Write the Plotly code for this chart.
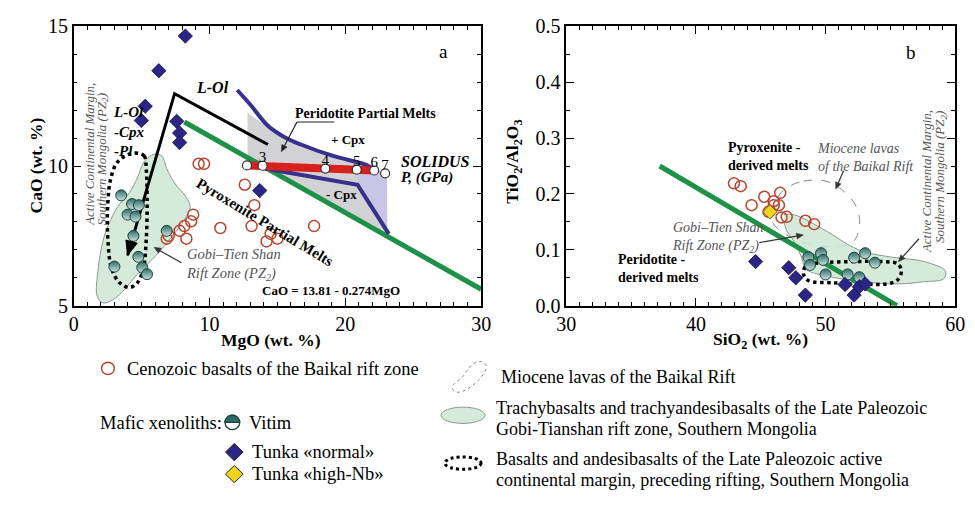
import math
import plotly.graph_objects as go

SERIF = "Liberation Serif, Times New Roman, serif"

# ---------------- panel a : CaO vs MgO ----------------
baikal_a_mgo = [9.2, 9.6, 12.6, 13.3, 8.8, 8.65, 8.15, 7.8, 8.3, 7.0, 6.85, 10.8, 13.1, 14.5, 15.0, 14.2, 17.7]
baikal_a_cao = [10.08, 10.08, 9.33, 8.6, 8.26, 8.02, 7.85, 7.68, 7.4, 7.5, 7.4, 7.78, 7.85, 7.57, 7.4, 7.3, 7.85]

tunka_a_mgo = [8.22, 6.27, 5.27, 4.98, 7.59, 7.8, 7.8, 13.7]
tunka_a_cao = [14.65, 13.41, 12.14, 11.63, 11.6, 11.18, 10.84, 9.12]

vitim_a_mgo = [3.5, 4.3, 4.8, 3.97, 4.55, 4.4, 6.85, 4.76, 3.0, 5.05, 5.4]
vitim_a_cao = [8.95, 8.64, 8.6, 8.26, 8.19, 7.5, 7.68, 6.75, 6.4, 6.37, 6.13]

# peridotite solidus; pressures (GPa) labelled from the second point on
solidus_mgo = [12.76, 13.91, 18.53, 20.84, 22.13, 22.93]
solidus_cao = [10.02, 10.01, 9.91, 9.87, 9.84, 9.74]
solidus_p = ["3", "4", "5", "6", "7"]

# olivine-control boundary and -Cpx boundary of peridotite melts
lol_mgo = [12.04, 12.98, 14.28, 15.5, 16.73, 19.1, 21.49, 22.13]
lol_cao = [12.72, 12.21, 11.45, 11.04, 10.77, 10.36, 10.05, 9.87]
cpx_mgo = [14.06, 16.94, 20.9, 21.85, 23.2]
cpx_cao = [9.91, 9.67, 9.33, 8.6, 7.57]

# peridotite partial melt field
perid_mgo = [12.8, 14.28, 15.5, 16.73, 19.1, 21.49, 22.13, 23.07, 23.07, 13.9, 12.8]
perid_cao = [11.9, 11.4, 11.0, 10.74, 10.33, 10.03, 9.86, 9.76, 7.49, 10.0, 10.0]
lav_mgo = [20.9, 21.85, 23.1, 23.07, 22.13, 21.0]
lav_cao = [9.33, 8.6, 7.52, 9.76, 9.84, 9.86]

# fractionation trend L-Ol -> L-Ol-Cpx-Pl
trend_mgo = [14.3, 7.43, 3.97]
trend_cao = [10.77, 12.59, 6.8]

# pyroxenite / peridotite dividing line: CaO = 13.81 - 0.274MgO
div_mgo = [8.15, 30.0]
div_cao = [13.81 - 0.274 * m for m in div_mgo]

# Gobi-Tien Shan rift zone field and active margin field
gobi_a_mgo = [5.91, 6.49, 6.85, 7.43, 8.29, 8.58, 8.29, 7.57, 6.71, 5.77, 4.69, 3.82, 2.88, 2.16, 1.73, 1.80, 2.16, 2.52, 3.24, 4.11, 4.69, 5.19, 5.91]
gobi_a_cao = [10.42, 10.36, 9.91, 9.39, 8.88, 8.54, 8.19, 7.68, 7.16, 6.65, 6.13, 5.62, 5.21, 5.10, 5.34, 6.30, 7.33, 7.85, 8.54, 9.05, 9.57, 10.15, 10.42]
acm_a_mgo = [4.33, 5.19, 5.34, 5.41, 5.34, 5.12, 4.69, 4.11, 3.39, 2.81, 2.52, 2.52, 2.74, 3.24, 4.33]
acm_a_cao = [10.46, 10.36, 9.91, 8.71, 7.33, 6.30, 5.82, 5.65, 5.82, 6.30, 7.33, 8.71, 9.57, 10.15, 10.46]

# ---------------- panel b : TiO2/Al2O3 vs SiO2 ----------------
baikal_b_si = [42.93, 43.45, 44.29, 45.27, 46.0, 46.5, 46.0, 46.4, 46.6, 47.0, 48.44, 49.12, 45.6]
baikal_b_ti = [0.219, 0.214, 0.180, 0.195, 0.187, 0.202, 0.180, 0.180, 0.158, 0.159, 0.152, 0.146, 0.168]

tunka_b_si = [44.6, 47.16, 47.7, 48.44, 51.5, 52.2, 52.6, 53.05]
tunka_b_ti = [0.079, 0.068, 0.050, 0.019, 0.038, 0.019, 0.034, 0.039]

highnb_b_si = [45.7]
highnb_b_ti = [0.168]

vitim_b_si = [48.67, 49.65, 49.8, 52.2, 53.05, 53.8, 50.0, 51.7, 52.6, 48.8]
vitim_b_ti = [0.087, 0.094, 0.082, 0.086, 0.094, 0.077, 0.056, 0.056, 0.051, 0.073]

div_b_si = [37.2, 55.5]
div_b_ti = [0.25, 0.0]

gobi_b_si = [46.78, 47.54, 50.03, 51.84, 53.05, 55.09, 57.59, 59.25, 59.1, 57.59, 55.62, 52.83, 50.56, 48.52, 48.14, 47.54, 47.0, 46.78]
gobi_b_ti = [0.163, 0.163, 0.134, 0.108, 0.096, 0.087, 0.079, 0.062, 0.048, 0.043, 0.039, 0.043, 0.051, 0.065, 0.087, 0.116, 0.134, 0.151]
acm_b_si = [48.52, 49.8, 52.07, 54.34, 55.55, 55.85, 55.55, 54.72, 52.83, 50.56, 48.67, 48.29, 48.52]
acm_b_ti = [0.072, 0.077, 0.079, 0.079, 0.075, 0.062, 0.046, 0.039, 0.039, 0.041, 0.045, 0.057, 0.072]
mio_b_si = [47.0, 48.29, 50.03, 51.54, 52.45, 52.6, 52.07, 50.79, 49.05, 47.54, 46.25, 45.8, 46.4, 47.0]
mio_b_ti = [0.211, 0.223, 0.223, 0.202, 0.173, 0.139, 0.113, 0.106, 0.108, 0.120, 0.139, 0.156, 0.197, 0.211]

# ---------------- styles ----------------
RED = "#b8452e"
NAVY = "#2b2585"
TEAL = "#2c6b66"
GREEN = "#1c9147"
BLUE_CURVE = "#37308c"
FIELD_GREEN = "rgba(206,230,210,0.85)"

baikal_marker = dict(symbol="circle-open", size=11, color=RED, line=dict(width=1.5))
tunka_marker = dict(symbol="diamond", size=11, color=NAVY, line=dict(color="#15124a", width=0.8))
highnb_marker = dict(symbol="diamond", size=11, color="#f2d51b", line=dict(color="#5a4a00", width=0.8))
vitim_marker = dict(symbol="circle", size=11, color=TEAL, line=dict(color="#1b4340", width=1),
                    gradient=dict(type="vertical", color="#cfe3df"))

fig = go.Figure()


def field(x, y, xa, ya, fill, line, dash="solid", width=1, spline=True):
    fig.add_trace(go.Scatter(x=x, y=y, xaxis=xa, yaxis=ya, mode="lines", fill="toself",
                             fillcolor=fill, line=dict(color=line, width=width, dash=dash,
                                                       shape="spline" if spline else "linear"),
                             hoverinfo="skip", showlegend=False))


# panel a fields
field(perid_mgo, perid_cao, "x", "y", "rgba(205,205,208,0.9)", "rgba(0,0,0,0)", spline=False)
field(lav_mgo, lav_cao, "x", "y", "rgba(200,195,230,0.9)", "rgba(0,0,0,0)", spline=False)
field(gobi_a_mgo, gobi_a_cao, "x", "y", FIELD_GREEN, "#8a9a8e", width=1)
field(acm_a_mgo, acm_a_cao, "x", "y", "rgba(0,0,0,0)", "black", dash="dot", width=3.5)

# panel b fields
field(mio_b_si, mio_b_ti, "x2", "y2", "rgba(0,0,0,0)", "#888888", dash="dash", width=1)
field(gobi_b_si, gobi_b_ti, "x2", "y2", FIELD_GREEN, "#8a9a8e", width=1)
field(acm_b_si, acm_b_ti, "x2", "y2", "rgba(0,0,0,0)", "black", dash="dot", width=3.5)

# panel a lines
fig.add_trace(go.Scatter(x=div_mgo, y=div_cao, mode="lines", line=dict(color=GREEN, width=5),
                         showlegend=False, hoverinfo="skip"))
fig.add_trace(go.Scatter(x=lol_mgo, y=lol_cao, mode="lines", line=dict(color=BLUE_CURVE, width=4, shape="spline"),
                         showlegend=False, hoverinfo="skip"))
fig.add_trace(go.Scatter(x=cpx_mgo, y=cpx_cao, mode="lines", line=dict(color=BLUE_CURVE, width=4),
                         showlegend=False, hoverinfo="skip"))
fig.add_trace(go.Scatter(x=trend_mgo, y=trend_cao, mode="lines", line=dict(color="black", width=3),
                         showlegend=False, hoverinfo="skip"))
fig.add_trace(go.Scatter(x=solidus_mgo[:5], y=solidus_cao[:5], mode="lines", line=dict(color="#d8201c", width=8),
                         showlegend=False, hoverinfo="skip"))
fig.add_trace(go.Scatter(x=solidus_mgo, y=solidus_cao, mode="markers",
                         marker=dict(symbol="circle", size=9, color="white", line=dict(color="#333", width=1.2)),
                         showlegend=False, hoverinfo="skip"))
fig.add_trace(go.Scatter(x=solidus_mgo[1:], y=solidus_cao[1:], mode="text", text=solidus_p,
                         textposition="top center",
                         textfont=dict(family=SERIF, size=15, color="black"),
                         showlegend=False, hoverinfo="skip"))

# panel a points
fig.add_trace(go.Scatter(x=baikal_a_mgo, y=baikal_a_cao, mode="markers", marker=baikal_marker, showlegend=False))
fig.add_trace(go.Scatter(x=vitim_a_mgo, y=vitim_a_cao, mode="markers", marker=vitim_marker, showlegend=False))
fig.add_trace(go.Scatter(x=tunka_a_mgo, y=tunka_a_cao, mode="markers", marker=tunka_marker, showlegend=False))

# panel b line and points
fig.add_trace(go.Scatter(x=div_b_si, y=div_b_ti, xaxis="x2", yaxis="y2", mode="lines",
                         line=dict(color=GREEN, width=5), showlegend=False, hoverinfo="skip"))
fig.add_trace(go.Scatter(x=baikal_b_si, y=baikal_b_ti, xaxis="x2", yaxis="y2", mode="markers",
                         marker=baikal_marker, showlegend=False))
fig.add_trace(go.Scatter(x=highnb_b_si, y=highnb_b_ti, xaxis="x2", yaxis="y2", mode="markers",
                         marker=highnb_marker, showlegend=False))
fig.add_trace(go.Scatter(x=vitim_b_si, y=vitim_b_ti, xaxis="x2", yaxis="y2", mode="markers",
                         marker=vitim_marker, showlegend=False))
fig.add_trace(go.Scatter(x=tunka_b_si, y=tunka_b_ti, xaxis="x2", yaxis="y2", mode="markers",
                         marker=tunka_marker, showlegend=False))

# ---------------- axes ----------------
W, H = 975, 510
A_LEFT, A_RIGHT, P_TOP, P_BOTTOM = 65, 481, 16, 308
axis_common = dict(showline=True, linecolor="black", linewidth=1.5, mirror="ticks", ticks="inside",
                   ticklen=8, tickwidth=1.3, tickcolor="black", showgrid=False, zeroline=False,
                   tickfont=dict(family=SERIF, size=20, color="black"), fixedrange=True)

fig.update_layout(
    width=W, height=H, margin=dict(l=0, r=0, t=0, b=0),
    paper_bgcolor="white", plot_bgcolor="rgba(0,0,0,0)", showlegend=False,
    xaxis=dict(domain=[A_LEFT / W, A_RIGHT / W], range=[0, 30], dtick=10, anchor="y",
               minor=dict(dtick=1, ticklen=4, ticks="inside", tickcolor="black"), **axis_common),
    yaxis=dict(domain=[1 - P_BOTTOM / H, 1 - P_TOP / H], range=[5, 15], dtick=5, anchor="x",
               minor=dict(dtick=1, ticklen=4, ticks="inside", tickcolor="black"), **axis_common),
    xaxis2=dict(domain=[568 / W, 965 / W], range=[30, 60], dtick=10, anchor="y2",
                minor=dict(dtick=1, ticklen=4, ticks="inside", tickcolor="black"), **axis_common),
    yaxis2=dict(domain=[1 - P_BOTTOM / H, 1 - P_TOP / H], range=[0, 0.5], dtick=0.1, tickformat=".1f",
                anchor="x2", minor=dict(dtick=0.05, ticklen=4, ticks="inside", tickcolor="black"),
                **axis_common),
    # full-figure pixel frame for labels and key
    xaxis3=dict(domain=[0, 1], range=[0, W], visible=False, anchor="y3", fixedrange=True),
    yaxis3=dict(domain=[0, 1], range=[H, 0], visible=False, anchor="x3", fixedrange=True),
)

ann = []
shapes = []


def label(x, y, text, size=15, color="black", anchor="center", angle=0, align="left"):
    ann.append(dict(x=x, y=y, xref="x3", yref="y3", text=text, showarrow=False,
                    font=dict(family=SERIF, size=size, color=color), borderpad=0, align=align,
                    xanchor=anchor, yanchor="middle", textangle=angle))


def pointer(tx, ty, hx, hy, color="#333", width=1.2, head=7.0, half=3.0):
    """Straight leader from (tx, ty) with a filled head at (hx, hy), in figure pixels."""
    L = math.hypot(hx - tx, hy - ty)
    ux, uy = (hx - tx) / L, (hy - ty) / L
    bx, by = hx - ux * head, hy - uy * head
    shapes.append(dict(type="line", xref="x3", yref="y3", x0=tx, y0=ty, x1=bx, y1=by,
                       line=dict(color=color, width=width)))
    shapes.append(dict(type="path", xref="x3", yref="y3",
                       path=(f"M {hx},{hy} L {bx - uy * half},{by + ux * half} "
                             f"L {bx + uy * half},{by - ux * half} Z"),
                       line=dict(color=color, width=0.5), fillcolor=color))


GRAY_TXT = "#555555"

# axis titles
label(27, 161, "<b>CaO (wt. %)</b>", 17.5, angle=-90)
label(266, 344, "<b>MgO (wt. %)</b>", 17.5)
label(514, 157, "<b>TiO<sub>2</sub>/Al<sub>2</sub>O<sub>3</sub></b>", 17.5, angle=-90)
label(766, 344, "<b>SiO<sub>2</sub> (wt. %)</b>", 17.5)

# panel a labels
label(443, 42, "a", 19)
label(207, 80, "<b><i>L-Ol</i></b>", 16)
label(104, 126, "<b><i>L-Ol</i></b><br><b><i>-Cpx</i></b><br><b><i>-Pl</i></b>", 15, anchor="left")
label(81, 150, "<i>Active Continental Margin,</i>", 13, GRAY_TXT, angle=-90)
label(94, 155, "<i>Southern Mongolia (PZ<sub>2</sub>)</i>", 13, GRAY_TXT, angle=-90)
label(363, 107, "<b>Peridotite Partial Melts</b>", 14)
shapes.append(dict(type="line", xref="x3", yref="y3", x0=293, y0=116, x1=331, y1=116,
                   line=dict(color="#222", width=1.2)))
pointer(293, 116, 277, 147, color="#222")
label(345, 134, "<b>+ Cpx</b>", 13)
label(338, 192, "<b>- Cpx</b>", 13)
label(398, 157, "<b><i>SOLIDUS</i></b>", 16, anchor="left")
label(398, 174, "<b><i>P, (GPa)</i></b>", 15, anchor="left")
label(260, 220, "<b>Pyroxenite Partial Melts</b>", 15, angle=31)
label(179, 265, "<i>Gobi–Tien Shan<br>Rift Zone (PZ<sub>2</sub>)</i>", 14.5, GRAY_TXT, anchor="left")
pointer(175, 263, 147, 247)
label(328, 292, "<b>CaO = 13.81 - 0.274MgO</b>", 13)


# arrowhead of the fractionation trend, placed through the panel-a scales
def a_px(mgo, cao):
    return (A_LEFT + mgo / 30 * (A_RIGHT - A_LEFT),
            P_BOTTOM - (cao - 5) / 10 * (P_BOTTOM - P_TOP))


tip = a_px(trend_mgo[2], trend_cao[2])
apex = a_px(trend_mgo[1], trend_cao[1])
L = math.hypot(tip[0] - apex[0], tip[1] - apex[1])
ux, uy = (tip[0] - apex[0]) / L, (tip[1] - apex[1]) / L
bx, by = tip[0] - ux * 15, tip[1] - uy * 15
shapes.append(dict(type="path", xref="x3", yref="y3",
                   path=(f"M {tip[0]},{tip[1]} L {bx - uy * 6},{by + ux * 6} "
                         f"L {bx + uy * 6},{by - ux * 6} Z"),
                   line=dict(color="black", width=1), fillcolor="black"))

# panel b labels
label(920, 43, "b", 19)
label(732, 152, "<b>Pyroxenite -<br>derived melts</b>", 14, anchor="left")
label(823, 153, "<i>Miocene lavas<br>of the Baikal Rift</i>", 14, GRAY_TXT, anchor="left")
pointer(851, 167, 843, 186)
label(936, 178, "<i>Active Continental Margin,</i>", 13, GRAY_TXT, angle=-90)
label(950, 174, "<i>Southern Mongolia (PZ<sub>2</sub>)</i>", 13, GRAY_TXT, angle=-90)
pointer(928, 238, 907, 262)
label(675, 237, "<i>Gobi–Tien Shan<br>Rift Zone (PZ<sub>2</sub>)</i>", 14, GRAY_TXT, anchor="left")
pointer(765, 242, 810, 234)
label(620, 269, "<b>Peridotite -<br>derived melts</b>", 14, anchor="left")

# ---------------- key ----------------
label(118, 374, "Cenozoic basalts of the Baikal rift zone", 18.5, anchor="left")
label(91, 431, "Mafic xenoliths:", 18.5, anchor="left")
label(243, 431, "Vitim", 18.5, anchor="left")
label(246, 461, "Tunka «normal»", 18.5, anchor="left")
label(246, 484, "Tunka «high-Nb»", 18.5, anchor="left")
label(500, 382, "Miocene lavas of the Baikal Rift", 18, anchor="left")
label(495, 415, "Trachybasalts and trachyandesibasalts of the Late Paleozoic", 18, anchor="left")
label(495, 437, "Gobi-Tianshan rift zone, Southern Mongolia", 18, anchor="left")
label(495, 468, "Basalts and andesibasalts of the Late Paleozoic active", 18, anchor="left")
label(495, 490, "continental margin, preceding rifting, Southern Mongolia", 18, anchor="left")

# key swatches
shapes.append(dict(type="circle", xref="x3", yref="y3", x0=93.5, x1=106.5, y0=367, y1=380,
                   line=dict(color=RED, width=1.5), fillcolor="white"))
cx, cy, r, k = 227, 430, 7.5, 0.5523
shapes.append(dict(type="circle", xref="x3", yref="y3", x0=cx - r, x1=cx + r, y0=cy - r, y1=cy + r,
                   line=dict(color="#1b4340", width=1.3), fillcolor="white"))
shapes.append(dict(type="path", xref="x3", yref="y3",
                   path=(f"M {cx - r},{cy} C {cx - r},{cy - k * r} {cx - k * r},{cy - r} {cx},{cy - r} "
                         f"C {cx + k * r},{cy - r} {cx + r},{cy - k * r} {cx + r},{cy} Z"),
                   line=dict(color="#1b4340", width=1.3), fillcolor=TEAL))
for dy, col in ((461, NAVY), (484, "#f2d51b")):
    shapes.append(dict(type="path", xref="x3", yref="y3",
                       path=f"M 229,{dy - 9} L 238,{dy} L 229,{dy + 9} L 220,{dy} Z",
                       line=dict(color="#222", width=1), fillcolor=col))
shapes.append(dict(type="path", xref="x3", yref="y3",
                   path="M 453,397 C 447,391 460,386 464,380 C 468,372 476,364 483,367 "
                        "C 490,371 484,379 479,385 C 472,393 459,402 453,397 Z",
                   line=dict(color="#888", width=1, dash="dot"), fillcolor="rgba(0,0,0,0)"))
shapes.append(dict(type="circle", xref="x3", yref="y3", x0=440, x1=485, y0=414, y1=431,
                   line=dict(color="#8a9a8e", width=1), fillcolor=FIELD_GREEN))
shapes.append(dict(type="circle", xref="x3", yref="y3", x0=444, x1=481, y0=466, y1=479,
                   line=dict(color="black", width=3, dash="dot"), fillcolor="rgba(0,0,0,0)"))

fig.update_layout(annotations=ann, shapes=shapes)
fig.write_html("out.html")
